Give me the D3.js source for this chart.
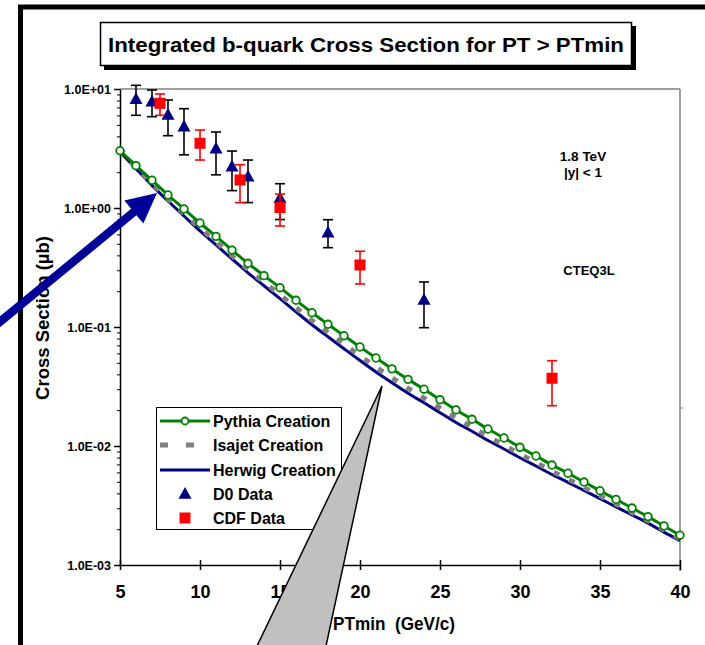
<!DOCTYPE html>
<html><head><meta charset="utf-8">
<script src="https://cdn.jsdelivr.net/npm/d3@7"></script>
<style>
html,body{margin:0;padding:0;background:#fff;}
svg{display:block;}
text{font-family:"Liberation Sans",Arial,sans-serif;font-weight:bold;fill:#000;}
</style></head>
<body>
<svg id="chart" width="705" height="645"></svg>
<script>
// ---------- data ----------
const ptmin = [5,6,7,8,9,10,11,12,13,14,15,16,17,18,19,20,21,22,23,24,25,26,27,28,29,30,31,32,33,34,35,36,37,38,39,40];
const pythia = [3.03,2.27,1.71,1.286,0.981,0.748,0.578,0.443,0.343,0.270,0.214,0.1677,0.1318,0.1054,0.0845,0.0679,0.0549,0.0445,0.0363,0.0300,0.0245,0.0201,0.01677,0.0139,0.01167,0.00975,0.00824,0.00692,0.00590,0.00498,0.00421,0.00356,0.00301,0.00255,0.00213,0.00178];
const isajet = [3.15,2.18,1.605,1.193,0.898,0.6766,0.520,0.396,0.304,0.2379,0.1863,0.1450,0.1134,0.0901,0.0718,0.0573,0.0460,0.0374,0.0305,0.0253,0.0208,0.01716,0.01442,0.01202,0.01016,0.00855,0.00727,0.00614,0.00526,0.00448,0.00381,0.00324,0.00276,0.00235,0.00197,0.00166];
const herwig = [2.97,2.14,1.55,1.145,0.857,0.641,0.491,0.373,0.2854,0.2223,0.1729,0.1341,0.1045,0.0827,0.0657,0.0523,0.0419,0.0340,0.0277,0.0231,0.01905,0.01576,0.01329,0.01112,0.00944,0.00796,0.00679,0.00576,0.00495,0.00423,0.00361,0.00308,0.00263,0.00225,0.00189,0.00160];

const d0X    = [6,7,8,9,11,12,13,15,18,24];
const d0Val  = [8.19,7.82,6.04,4.82,3.15,2.22,1.83,1.21,0.620,0.1686];
const d0Low  = [6.01,5.85,4.05,2.80,1.90,1.40,1.11,0.80,0.464,0.0986];
const d0High = [10.74,9.81,8.08,6.83,4.35,3.01,2.53,1.60,0.797,0.239];

const cdfX    = [7.5,10,12.5,15,20,32];
const cdfVal  = [7.58,3.50,1.72,1.01,0.332,0.0371];
const cdfLow  = [6.01,2.53,1.11,0.706,0.230,0.0218];
const cdfHigh = [9.08,4.52,2.31,1.31,0.433,0.0521];

const xTicks = [5,10,15,20,25,30,35,40];
const yTicks = [0.001,0.01,0.1,1,10];
const yTickLabels = ["1.0E-03","1.0E-02","1.0E-01","1.0E+00","1.0E+01"];
const yMinor = [2,3,4,5,6,7,8,9];

const title = "Integrated b-quark Cross Section for PT > PTmin";
const xLabel = "PTmin  (GeV/c)";
const yLabel = "Cross Section (\u00b5b)";
const legendNames = ["Pythia Creation","Isajet Creation","Herwig Creation","D0 Data","CDF Data"];
const notes = ["1.8 TeV","|y| < 1","CTEQ3L"];

// ---------- drawing ----------
const svg = d3.select("#chart");
const L = 120, R = 680, T = 89, B = 565;
const x = d3.scaleLinear().domain([5,40]).range([L,R]);
const y = d3.scaleLog().domain([1e-3,1e1]).range([B,T]);

const navy = "#000080", green = "#008000", gray = "#808080", red = "#ff0000";
const FONT = '"Liberation Sans",Arial,sans-serif';

// outer frame (top & left visible)
svg.append("line").attr("x1",18).attr("x2",705).attr("y1",7).attr("y2",7).attr("stroke","#000").attr("stroke-width",5);
svg.append("line").attr("x1",20.5).attr("x2",20.5).attr("y1",5).attr("y2",645).attr("stroke","#000").attr("stroke-width",5);

// title box with shadow
svg.append("rect").attr("x",104).attr("y",26).attr("width",532).attr("height",44).attr("fill","#000");
svg.append("rect").attr("x",100.5).attr("y",22.5).attr("width",531).attr("height",43).attr("fill","#fff").attr("stroke","#000").attr("stroke-width",1.5);
svg.append("text").attr("x",108).attr("y",52).attr("textLength",516).attr("lengthAdjust","spacingAndGlyphs")
  .style("font-size","21px").text(title);

// plot border top/right
svg.append("line").attr("x1",L).attr("x2",R).attr("y1",T).attr("y2",T).attr("stroke",gray).attr("stroke-width",1.5);
svg.append("line").attr("x1",R).attr("x2",R).attr("y1",T).attr("y2",B+6).attr("stroke",gray).attr("stroke-width",1.5);
svg.append("line").attr("x1",R-1).attr("x2",R+3).attr("y1",408).attr("y2",408).attr("stroke",gray).attr("stroke-width",1);

// y minor ticks
const minorVals = [];
yTicks.slice(0,4).forEach(d => yMinor.forEach(m => minorVals.push(d*m)));
svg.append("g").attr("transform",`translate(${L},0)`)
  .call(d3.axisLeft(y).tickValues(minorVals).tickSize(3).tickFormat(""))
  .call(g => g.select(".domain").remove())
  .selectAll("line").attr("stroke","#000").attr("stroke-width",1);

// y axis
const yAx = svg.append("g").attr("transform",`translate(${L},0)`)
  .call(d3.axisLeft(y).tickValues(yTicks).tickSize(6).tickSizeOuter(0).tickPadding(3)
        .tickFormat((d,i) => yTickLabels[i]));
yAx.select(".domain").attr("stroke","#000").attr("stroke-width",1.5);
yAx.selectAll(".tick line").attr("stroke","#000").attr("stroke-width",1.5);
yAx.selectAll("text").style("font-size","12.5px").style("font-family",FONT).style("font-weight","bold").attr("fill","#000");

// x axis
const xAx = svg.append("g").attr("transform",`translate(0,${B})`)
  .call(d3.axisBottom(x).tickValues(xTicks).tickSize(5).tickSizeOuter(0).tickPadding(15));
xAx.select(".domain").attr("stroke","#000").attr("stroke-width",1.5);
xAx.selectAll(".tick line").attr("y1",-5).attr("y2",5).attr("stroke","#000").attr("stroke-width",1.5);
xAx.selectAll("text").style("font-size","18px").style("font-family",FONT).style("font-weight","bold").attr("fill","#000");

// axis labels
svg.append("text").attr("transform","translate(49,318) rotate(-90)").attr("text-anchor","middle").style("font-size","18.5px").text(yLabel);
svg.append("text").attr("x",333).attr("y",630).attr("textLength",122).attr("lengthAdjust","spacingAndGlyphs")
  .attr("xml:space","preserve").style("white-space","pre").style("font-size","18.5px").text(xLabel);

// annotations
svg.append("text").attr("x",583).attr("y",161).attr("text-anchor","middle").style("font-size","13.5px").text(notes[0]);
svg.append("text").attr("x",583).attr("y",177).attr("text-anchor","middle").style("font-size","13.5px").text(notes[1]);
svg.append("text").attr("x",589).attr("y",275).attr("text-anchor","middle").style("font-size","13px").text(notes[2]);

// curves
const line = d3.line().x((d,i) => x(ptmin[i])).y(d => y(d)).curve(d3.curveMonotoneX);
svg.append("path").datum(herwig).attr("d",line).attr("fill","none").attr("stroke",navy).attr("stroke-width",3);
svg.append("path").datum(isajet).attr("d",line).attr("fill","none").attr("stroke",gray).attr("stroke-width",5).attr("stroke-dasharray","6,11");
svg.append("path").datum(pythia).attr("d",line).attr("fill","none").attr("stroke",green).attr("stroke-width",3);
svg.append("g").selectAll("circle").data(pythia).join("circle")
  .attr("cx",(d,i) => x(ptmin[i])).attr("cy",d => y(d)).attr("r",3.8)
  .attr("fill","#fff").attr("stroke",green).attr("stroke-width",1.8);

// error bars helper
function errBars(xs, lo, hi, color) {
  const g = svg.append("g").attr("stroke",color).attr("stroke-width",1.6);
  xs.forEach((xv,i) => {
    const cx = x(xv);
    g.append("line").attr("x1",cx).attr("x2",cx).attr("y1",y(lo[i])).attr("y2",y(hi[i]));
    g.append("line").attr("x1",cx-5).attr("x2",cx+5).attr("y1",y(lo[i])).attr("y2",y(lo[i]));
    g.append("line").attr("x1",cx-5).attr("x2",cx+5).attr("y1",y(hi[i])).attr("y2",y(hi[i]));
  });
}
const triPath = "M0,-7L6.5,4.8L-6.5,4.8Z";
errBars(d0X, d0Low, d0High, "#000");
svg.append("g").selectAll("path").data(d0Val).join("path")
  .attr("d",triPath).attr("transform",(d,i) => `translate(${x(d0X[i])},${y(d)})`).attr("fill",navy);
errBars(cdfX, cdfLow, cdfHigh, red);
svg.append("g").selectAll("rect").data(cdfVal).join("rect")
  .attr("x",(d,i) => x(cdfX[i])-5.5).attr("y",d => y(d)-5.5).attr("width",11).attr("height",11).attr("fill",red);

// legend
const lg = svg.append("g");
lg.append("rect").attr("x",156.5).attr("y",407.5).attr("width",185).attr("height",122).attr("fill","#fff").attr("stroke","#000").attr("stroke-width",1);
const ly = [421,445,470,494,518];
lg.append("line").attr("x1",160).attr("x2",210).attr("y1",ly[0]).attr("y2",ly[0]).attr("stroke",green).attr("stroke-width",3);
lg.append("circle").attr("cx",185).attr("cy",ly[0]).attr("r",3.5).attr("fill","#fff").attr("stroke",green).attr("stroke-width",1.8);
lg.append("line").attr("x1",160).attr("x2",196).attr("y1",ly[1]).attr("y2",ly[1]).attr("stroke",gray).attr("stroke-width",5).attr("stroke-dasharray","8,18");
lg.append("line").attr("x1",160).attr("x2",210).attr("y1",ly[2]).attr("y2",ly[2]).attr("stroke",navy).attr("stroke-width",3);
lg.append("path").attr("d",triPath).attr("transform",`translate(185,${ly[3]})`).attr("fill",navy);
lg.append("rect").attr("x",179.5).attr("y",ly[4]-5.5).attr("width",11).attr("height",11).attr("fill",red);
legendNames.forEach((n,i) => lg.append("text").attr("x",213).attr("y",ly[i]+5.5).style("font-size","16px").text(n));

// callout wedge
svg.append("path").attr("d","M382,386L257,646L326,646Z").attr("fill","#c0c0c0").attr("stroke","#000").attr("stroke-width",1.5);

// blue arrow
const tip = [157,193], tail = [-10,330];
const dx = tip[0]-tail[0], dy = tip[1]-tail[1], len = Math.hypot(dx,dy);
const ux = dx/len, uy = dy/len, nx = -uy, ny = ux;
const hl = 30, hw = 15, sw = 4.2;
const bx = tip[0]-ux*hl, by = tip[1]-uy*hl;
const pts = [
  [tail[0]+nx*sw, tail[1]+ny*sw],[bx+nx*sw, by+ny*sw],[bx+nx*hw, by+ny*hw],tip,
  [bx-nx*hw, by-ny*hw],[bx-nx*sw, by-ny*sw],[tail[0]-nx*sw, tail[1]-ny*sw]
];
svg.append("path").attr("d","M"+pts.map(p=>p.join(",")).join("L")+"Z").attr("fill","#000099");
</script>
</body></html>
